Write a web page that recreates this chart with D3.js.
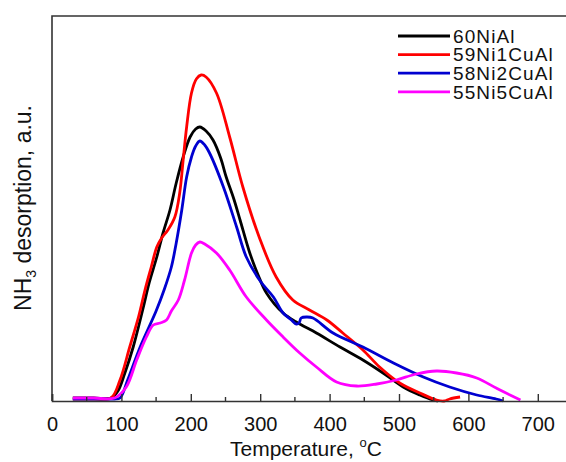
<!DOCTYPE html>
<html>
<head>
<meta charset="utf-8">
<script src="https://cdn.jsdelivr.net/npm/d3@7"></script>
<style>
  body { margin: 0; background: #fff; }
  svg { display: block; font-family: "Liberation Sans", Arial, sans-serif; }
</style>
</head>
<body>
<div id="chart"></div>
<script>
// series: temperature (°C) and NH3 desorption signal (a.u.)
var names = ["60NiAl", "59Ni1CuAl", "58Ni2CuAl", "55Ni5CuAl"];
var colors = ["#000000", "#ff0000", "#0000d0", "#ff00ff"];

var tBlack = [30, 60, 85, 95, 105, 117, 131, 140, 151, 160, 170, 179, 189, 199, 207, 213, 222, 232, 243, 251, 262, 271, 285, 297, 309, 333, 352, 381, 415, 448, 477, 506, 530, 549, 556];
var hBlack = [3, 3, 3, 10, 28, 54, 92, 118, 144, 168, 191, 218, 244, 264, 272, 274, 270, 261, 243, 224, 202, 181, 148, 126, 108, 88, 79, 68, 54, 41, 28, 14, 6, 1, 0];

var tRed = [30, 60, 85, 98, 112, 125, 134, 143, 151, 158, 167, 177, 184, 189, 194, 201, 208, 215, 222, 237, 256, 275, 299, 323, 347, 371, 396, 419, 448, 472, 501, 530, 554, 565, 573, 588];
var hRed = [2, 2, 3, 21, 54, 85, 111, 134, 154, 163, 171, 184, 208, 241, 274, 308, 322, 326, 324, 308, 264, 214, 163, 124, 101, 91, 81, 68, 51, 34, 18, 8, 1, 0, 2, 4];

var tBlue = [30, 60, 90, 98, 109, 127, 150, 162, 172, 179, 187, 194, 201, 207, 213, 220, 227, 247, 266, 280, 300, 319, 333, 345, 352, 356, 359, 367, 376, 405, 448, 492, 535, 573, 612, 640, 650];
var hBlue = [2, 2, 2, 3, 21, 54, 90, 112, 134, 158, 191, 224, 244, 255, 260, 256, 248, 214, 174, 144, 120, 104, 88, 81, 77, 78, 83, 84, 83, 68, 54, 38, 24, 14, 6, 2, 0];

var tPink = [30, 60, 90, 107, 122, 136, 146, 156, 165, 172, 182, 191, 201, 207, 213, 220, 237, 256, 280, 309, 333, 357, 381, 410, 439, 468, 496, 525, 554, 583, 612, 640, 660, 675];
var hPink = [3, 3, 3, 14, 41, 64, 76, 78, 81, 90, 101, 121, 148, 156, 159, 157, 148, 131, 104, 81, 64, 48, 34, 19, 15, 17, 21, 27, 30, 28, 23, 13, 6, 1];

var xTicks = [0, 100, 200, 300, 400, 500, 600, 700];
var xMinor = [50, 150, 250, 350, 450, 550, 650, 750];

var series = [
  { name: names[0], color: colors[0], t: tBlack, h: hBlack },
  { name: names[1], color: colors[1], t: tRed, h: hRed },
  { name: names[2], color: colors[2], t: tBlue, h: hBlue },
  { name: names[3], color: colors[3], t: tPink, h: hPink }
];

var width = 566, height = 462;
var margin = { left: 52, top: 16, bottom: 401 };

var x = d3.scaleLinear().domain([0, 750]).range([margin.left, margin.left + 750 * 0.694]);
var y = d3.scaleLinear().domain([0, 385]).range([margin.bottom, margin.top]);

var svg = d3.select("#chart").append("svg")
  .attr("width", width)
  .attr("height", height);

// frame (left + top, right side runs off the picture)
svg.append("path")
  .attr("d", "M" + margin.left + "," + margin.bottom + "V" + margin.top + "H" + (width + 10))
  .attr("fill", "none")
  .attr("stroke", "#333")
  .attr("stroke-width", 1.6);

var line = d3.line()
  .curve(d3.curveCatmullRom.alpha(0.5))
  .x(function (d) { return x(d[0]); })
  .y(function (d) { return y(d[1]); });

svg.append("g").selectAll("path")
  .data(series)
  .enter().append("path")
  .attr("fill", "none")
  .attr("stroke", function (d) { return d.color; })
  .attr("stroke-width", 2.8)
  .attr("stroke-linejoin", "round")
  .attr("d", function (d) { return line(d3.zip(d.t, d.h)); });

// bottom axis with inward ticks
var xAxis = svg.append("g")
  .attr("transform", "translate(0," + margin.bottom + ")")
  .call(d3.axisBottom(x).tickValues(xTicks).tickSize(-7).tickFormat(d3.format("d")));
xAxis.select(".domain").attr("stroke", "#333").attr("stroke-width", 1.6);
xAxis.selectAll(".tick line").attr("stroke", "#333").attr("stroke-width", 1.4);
xAxis.selectAll("text")
  .attr("fill", "#111")
  .attr("font-size", 20)
  .attr("dy", 0)
  .attr("y", 30);

svg.append("g").selectAll("line")
  .data(xMinor)
  .enter().append("line")
  .attr("x1", function (d) { return x(d); })
  .attr("x2", function (d) { return x(d); })
  .attr("y1", margin.bottom)
  .attr("y2", margin.bottom - 4)
  .attr("stroke", "#333")
  .attr("stroke-width", 1.4);

// axis titles
var xt = svg.append("text")
  .attr("x", 306)
  .attr("y", 456)
  .attr("text-anchor", "middle")
  .attr("font-size", 21)
  .attr("fill", "#111");
xt.append("tspan").text("Temperature, ");
xt.append("tspan").attr("font-size", 13).attr("dy", -9).text("o");
xt.append("tspan").attr("dy", 9).text("C");

var yt = svg.append("text")
  .attr("transform", "translate(31,208) rotate(-90)")
  .attr("text-anchor", "middle")
  .attr("font-size", 23)
  .attr("fill", "#111");
yt.append("tspan").text("NH");
yt.append("tspan").attr("font-size", 14).attr("dy", 5).text("3");
yt.append("tspan").attr("dy", -5).text(" desorption, a.u.");

// legend
var legend = svg.append("g").selectAll("g")
  .data(series)
  .enter().append("g")
  .attr("transform", function (d, i) { return "translate(398," + (36 + i * 18.6) + ")"; });
legend.append("line")
  .attr("x1", 0).attr("x2", 52)
  .attr("stroke", function (d) { return d.color; })
  .attr("stroke-width", 2.8);
legend.append("text")
  .attr("x", 55)
  .attr("dy", "0.36em")
  .attr("font-size", 19)
  .attr("letter-spacing", 1.1)
  .attr("fill", "#111")
  .text(function (d) { return d.name; });
</script>
</body>
</html>
